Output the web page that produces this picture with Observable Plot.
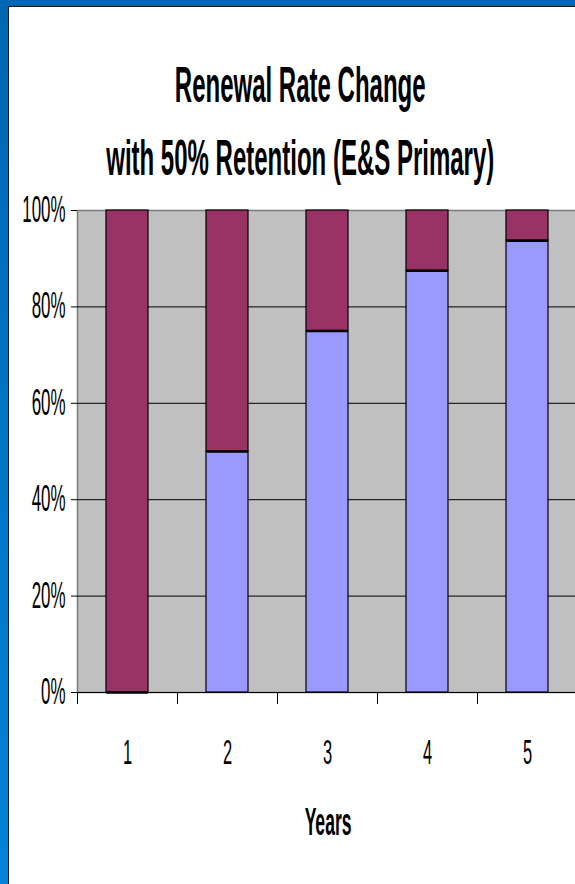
<!DOCTYPE html>
<html>
<head>
<meta charset="utf-8">
<script src="https://cdn.jsdelivr.net/npm/d3@7"></script>
<script src="https://cdn.jsdelivr.net/npm/@observablehq/plot@0.6"></script>
<style>
  html, body { margin: 0; padding: 0; }
  #page {
    position: relative; width: 575px; height: 884px; overflow: hidden;
    background: linear-gradient(#0066b2, #0383d8);
    font-family: "Liberation Sans", Arial, sans-serif; color: #000;
  }
  #sheet {
    position: absolute; left: 8px; top: 6px; right: 0; bottom: 0;
    background: #fff; border-left: 1.5px solid #1a1a1a; border-top: 1.5px solid #1a1a1a;
  }
  #chart { position: absolute; left: 0; top: 0; width: 580px; }
  .line {
    position: absolute; left: -700px; width: 2000px; text-align: center;
    white-space: nowrap; font-weight: bold;
  }
  .line span { display: inline-block; transform: scaleX(0.48); transform-origin: 50% 50%; }
</style>
</head>
<body>
<div id="page">
  <div id="sheet"></div>
  <div id="chart"></div>
  <div class="line" style="top:60px;font-size:50px;line-height:50px"><span>Renewal Rate Change</span></div>
  <div class="line" style="top:133px;font-size:50px;line-height:50px"><span>with 50% Retention (E&amp;S Primary)</span></div>
  <div class="line" style="top:802px;left:-672px;font-size:39px;line-height:39px"><span style="transform:scaleX(0.45)">Years</span></div>
</div>
<script>
// Share of each year's business: retained renewals vs. the remainder
const years = ["1", "2", "3", "4", "5"];
const retained = [0, 0.5, 0.75, 0.875, 0.9375];
const remaining = [1, 0.5, 0.25, 0.125, 0.0625];
const seriesNames = ["Retained", "Remaining"];
const seriesColors = ["#9999ff", "#993366"];
const yTicks = [0, 0.2, 0.4, 0.6, 0.8, 1];
const gridValues = [0.2, 0.4, 0.6, 0.8];

const rows = years.flatMap((year, i) => [
  {year, series: seriesNames[0], value: retained[i]},
  {year, series: seriesNames[1], value: remaining[i]}
]);
const retainedRows = years.map((year, i) => ({year, value: retained[i]}));

const chart = Plot.plot({
  width: 580,
  height: 884,
  marginLeft: 77,
  marginRight: 3,
  marginTop: 210,
  marginBottom: 192,
  style: {fontFamily: "'Liberation Sans', Arial, sans-serif", fontSize: "36px", background: "transparent", overflow: "visible", color: "#000"},
  x: {domain: years, paddingInner: 0.58, paddingOuter: 0.29, axis: null, label: null},
  y: {domain: [0, 1], axis: null, label: null},
  color: {domain: seriesNames, range: seriesColors},
  marks: [
    Plot.frame({fill: "#c0c0c0", stroke: "#7a7a7a", strokeWidth: 1.5}),
    Plot.ruleY(gridValues, {stroke: "#000", strokeWidth: 1}),
    Plot.barY(rows, {x: "year", y: "value", fill: "series", stroke: "#000", strokeWidth: 1.2}),
    // heavier edge where the retained segment meets the remainder
    Plot.tickY(retainedRows, {x: "year", y: "value", stroke: "#000", strokeWidth: 2.5}),
    Plot.ruleY([0], {stroke: "#000", strokeWidth: 1.2}),
    Plot.axisY({ticks: yTicks, tickFormat: d3.format(".0%"), tickSize: 6, tickPadding: 6, fontSize: 36, stroke: "#000"}),
    Plot.axisX({tickSize: 12, dx: -50, tickFormat: () => "", stroke: "#000"}),
    Plot.axisX({tickSize: 0, tickPadding: 47, fontSize: 35})
  ]
});
chart.style.maxWidth = "none";

// Condensed lettering: squeeze every label horizontally around its anchor
const squeeze = 0.47;
d3.select(chart).selectAll("text").each(function () {
  const t = this.getAttribute("transform");
  if (t) {
    this.setAttribute("transform", `${t} scale(${squeeze},1)`);
  } else {
    const x = +(this.getAttribute("x") || 0);
    this.setAttribute("transform", `translate(${x},0) scale(${squeeze},1) translate(${-x},0)`);
  }
});

document.getElementById("chart").appendChild(chart);
</script>
</body>
</html>
